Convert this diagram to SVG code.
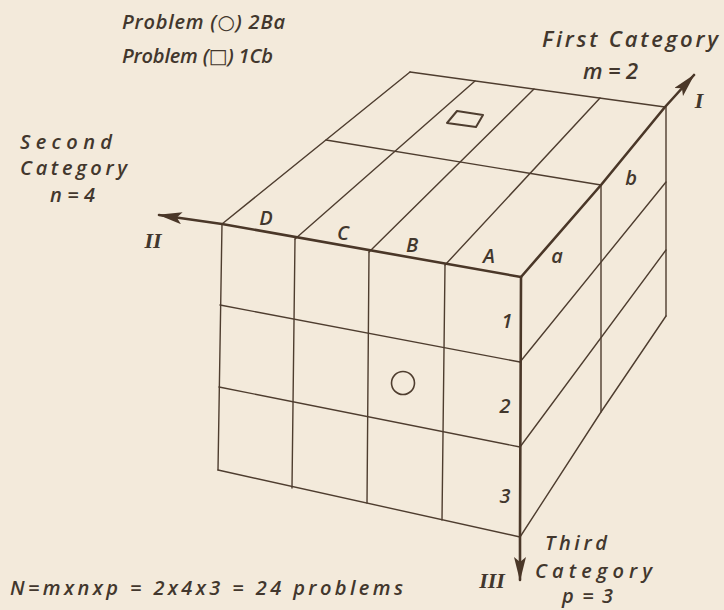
<svg xmlns="http://www.w3.org/2000/svg" width="724" height="610" viewBox="0 0 724 610">
<defs>
<style>
.bg{fill:#f3eadb}
.g{fill:none;stroke:#4e3d2f;stroke-width:1.4;stroke-linecap:round;stroke-linejoin:round}
.ax{fill:none;stroke:#4a3728;stroke-width:2.6;stroke-linecap:round;stroke-linejoin:round}
.t{font-family:"Open Sans","Noto Sans","DejaVu Sans",sans-serif;font-style:italic;font-weight:600;fill:#42372d}
.lbl{font-size:20px;text-anchor:middle}
.rom{font-family:"Liberation Serif","DejaVu Serif",serif;font-style:italic;font-weight:bold;font-size:22px;fill:#42372d;text-anchor:middle}
.sym{font-family:"DejaVu Sans",sans-serif;font-style:normal;font-weight:normal}
</style>
<marker id="arr" viewBox="0 0 24 12" refX="23" refY="6" markerWidth="24" markerHeight="12" markerUnits="userSpaceOnUse" orient="auto">
<path d="M0,0 L24,6 L0,12 L5,6 Z" fill="#4a3728"/>
</marker>
</defs>
<rect class="bg" x="0" y="0" width="724" height="610"/>

<g id="connectors">
<path class="g" d="M222,224 L410,72 M295,239 L475,81 M369,252 L534,89 M445,265 L600,98"/>
<path class="g" d="M410,72 L665,107 M326,140 L601,185"/>
<path class="g" d="M222,224 L218,470 M295,239 L292,488 M369,252 L367,503 M445,265 L442,520"/>
<path class="g" d="M220,305 L520,362 M219,387 L520,447 M218,470 L520,537"/>
<path class="g" d="M601,185 L601,412 M666,107 L666,316"/>
<path class="g" d="M520,362 L666,182 M520,447 L666,250 M520,537 L601,412 L666,316"/>
<path id="axis-I" class="ax" d="M521,277 L601,185 L665,107 L694,75" marker-end="url(#arr)"/>
<path id="axis-II" class="ax" d="M521,277 L222,224 L159,215" marker-end="url(#arr)"/>
<path id="axis-III" class="ax" d="M521,277 L520,537 L520,580" marker-end="url(#arr)"/>
</g>

<g id="symbols">
<circle cx="403" cy="383" r="11.5" fill="none" stroke="#4e3d2f" stroke-width="1.6"/>
<path d="M457,111 L483,115 L476,127 L447,123 Z" fill="none" stroke="#4e3d2f" stroke-width="2" stroke-linejoin="round"/>
</g>

<g id="top-labels">
<text class="t" x="122" y="29" font-size="20" textLength="163" lengthAdjust="spacing">Problem (<tspan class="sym">○</tspan>) 2Ba</text>
<text class="t" x="122" y="63" font-size="20" textLength="151" lengthAdjust="spacing">Problem (<tspan class="sym">□</tspan>) 1Cb</text>
</g>

<g id="first-category">
<text class="t" x="542" y="47" font-size="22" textLength="176" lengthAdjust="spacing">First Category</text>
<text class="t" x="583" y="79" font-size="22" textLength="55" lengthAdjust="spacing">m=2</text>
<text class="rom" x="699" y="108">I</text>
</g>

<g id="second-category">
<text class="t" x="20" y="149" font-size="20" textLength="92" lengthAdjust="spacing">Second</text>
<text class="t" x="20" y="175" font-size="20" textLength="107" lengthAdjust="spacing">Category</text>
<text class="t" x="50" y="202" font-size="20" textLength="45" lengthAdjust="spacing">n=4</text>
<text class="rom" x="153" y="248">II</text>
</g>

<g id="third-category">
<text class="t" x="545" y="550" font-size="20" textLength="62" lengthAdjust="spacing">Third</text>
<text class="t" x="535" y="578" font-size="20" textLength="117" lengthAdjust="spacing">Category</text>
<text class="t" x="562" y="603" font-size="20" textLength="51" lengthAdjust="spacing">p=3</text>
<text class="rom" x="492" y="588">III</text>
</g>

<g id="cell-labels">
<text class="t lbl" x="266" y="225">D</text>
<text class="t lbl" x="343" y="240">C</text>
<text class="t lbl" x="412" y="252">B</text>
<text class="t lbl" x="489" y="263">A</text>
<text class="t lbl" x="557" y="263">a</text>
<text class="t lbl" x="631" y="185">b</text>
<text class="t lbl" x="507" y="328">1</text>
<text class="t lbl" x="505" y="413">2</text>
<text class="t lbl" x="505" y="503">3</text>
</g>

<g id="formula">
<text class="t" x="10" y="595" font-size="20" textLength="393" lengthAdjust="spacing">N=mxnxp = 2x4x3 = 24 problems</text>
</g>
</svg>
